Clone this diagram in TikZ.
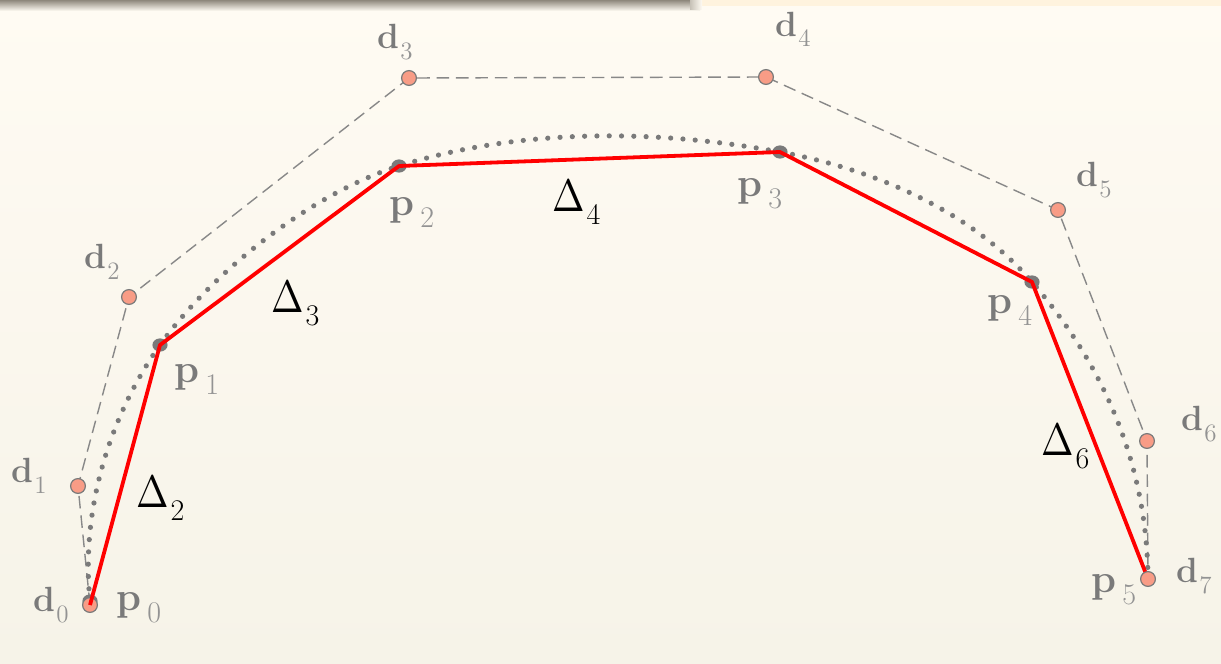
\documentclass[tikz,border=0pt]{standalone}
\usepackage{fontspec}
\usetikzlibrary{shapes.geometric}
\definecolor{bgtop}{HTML}{FFFBF3}
\definecolor{bgbot}{HTML}{F6F3E8}
\definecolor{salmon}{HTML}{F89C86}
\definecolor{ptgray}{HTML}{7A7A7A}
\definecolor{labgray}{HTML}{7A7A7A}
\definecolor{subgray}{HTML}{939393}
\definecolor{bartop}{HTML}{8E887C}
\definecolor{stripc}{HTML}{FFF3DE}
\definecolor{polygray}{HTML}{888888}
\newcommand{\dptlab}[1]{\textcolor{labgray}{\fontsize{17.5}{21}\selectfont\bfseries d}\kern0.8pt\raisebox{-5.5pt}{\textcolor{subgray}{\fontsize{12.5}{15}\selectfont #1}}}
\newcommand{\pptlab}[1]{\textcolor{labgray}{\fontsize{20}{24}\selectfont\bfseries p}\kern3.2pt\raisebox{-6pt}{\textcolor{subgray}{\fontsize{15}{18}\selectfont #1}}}
\newcommand{\deltalab}[1]{\scalebox{1.95}[2.27]{$\Delta$}\kern1pt\raisebox{-6.5pt}{\fontsize{15}{18}\selectfont #1}}
\tikzset{
  lab/.style={anchor=base west, inner sep=0pt, outer sep=0pt},
  ddot/.style={circle, fill=salmon, draw=ptgray, line width=0.6pt, minimum size=7.4pt, inner sep=0pt},
  pdot/.style={ellipse, fill=ptgray, minimum width=7.6pt, minimum height=6.6pt, inner sep=0pt},
  ctrlpoly/.style={draw=polygray, line width=0.7pt, dash pattern=on 6.3pt off 3.4pt},
  splinecurve/.style={draw=ptgray, line width=2.6pt, line cap=round, dash pattern=on 0pt off 6.15pt},
  chordline/.style={draw=red, line width=1.9pt, line join=round}
}
\begin{document}
\begin{tikzpicture}[x=0.5pt,y=-0.5pt]
\useasboundingbox (0,0) rectangle (1221,664);
% background
\shade[top color=bgtop, bottom color=bgbot] (0,0) rectangle (1221,664);
\fill[stripc] (700,0) rectangle (1221,6);
\shade[top color=bartop, bottom color=bgtop] (0,0) rectangle (700,11);
\shade[left color=bartop!50!bgtop, right color=bgtop] (690,0) rectangle (702,9);
% positions
\coordinate (d0) at (90,605);
\coordinate (d1) at (78,486);
\coordinate (d2) at (129,297);
\coordinate (d3) at (409,78);
\coordinate (d4) at (766,77);
\coordinate (d5) at (1058,210);
\coordinate (d6) at (1147,441);
\coordinate (d7) at (1148,579);
\coordinate (p0) at (90,601);
\coordinate (p1) at (160,345);
\coordinate (p2) at (399,166);
\coordinate (p3) at (780,152);
\coordinate (p4) at (1032,282);
\coordinate (p5) at (1148,579);
% control polygon
\draw[ctrlpoly] (d0) -- (d1) -- (d2) -- (d3) -- (d4) -- (d5) -- (d6) -- (d7);
% spline
\draw[splinecurve] (p0) .. controls (81,514) and (107,420) .. (p1)
  .. controls (212,272) and (312,193) .. (p2)
  .. controls (520,128) and (655,129) .. (p3)
  .. controls (873,169) and (970,210) .. (p4)
  .. controls (1108,370) and (1147,470) .. (p5);
% knot dots
\node[pdot] (p0dot) at (p0) {};
\node[pdot] (p1dot) at (p1) {};
\node[pdot] (p2dot) at (p2) {};
\node[pdot] (p3dot) at (p3) {};
\node[pdot] (p4dot) at (p4) {};
\node[pdot] (p5dot) at (p5) {};
\node[ddot] (d0dot) at (d0) {};
% chords
\draw[chordline] (d0) -- (p1) -- (p2) -- (p3) -- (p4) -- (p5);
% control dots
\node[ddot] (d1dot) at (d1) {};
\node[ddot] (d2dot) at (d2) {};
\node[ddot] (d3dot) at (d3) {};
\node[ddot] (d4dot) at (d4) {};
\node[ddot] (d5dot) at (d5) {};
\node[ddot] (d6dot) at (d6) {};
\node[ddot] (d7dot) at (d7) {};
% labels
\node[lab] (ld0) at (33,611) {\dptlab{0}};
\node[lab] (lp0) at (116,610) {\pptlab{0}};
\node[lab] (ld1) at (11,482) {\dptlab{1}};
\node[lab] (ld2) at (84,268) {\dptlab{2}};
\node[lab] (lp1) at (174,382) {\pptlab{1}};
\node[lab] (ld3) at (377,48) {\dptlab{3}};
\node[lab] (lp2) at (389,215) {\pptlab{2}};
\node[lab] (ld4) at (775,36) {\dptlab{4}};
\node[lab] (lp3) at (737,196) {\pptlab{3}};
\node[lab] (ld5) at (1076,186) {\dptlab{5}};
\node[lab] (lp4) at (987,313) {\pptlab{4}};
\node[lab] (ld6) at (1181,430) {\dptlab{6}};
\node[lab] (ld7) at (1176,582) {\dptlab{7}};
\node[lab] (lp5) at (1091,592) {\pptlab{5}};
\node[lab] (D2) at (136,507) {\deltalab{2}};
\node[lab] (D3) at (271,312) {\deltalab{3}};
\node[lab] (D4) at (552,211) {\deltalab{4}};
\node[lab] (D6) at (1041,455) {\deltalab{6}};
\end{tikzpicture}
\end{document}
